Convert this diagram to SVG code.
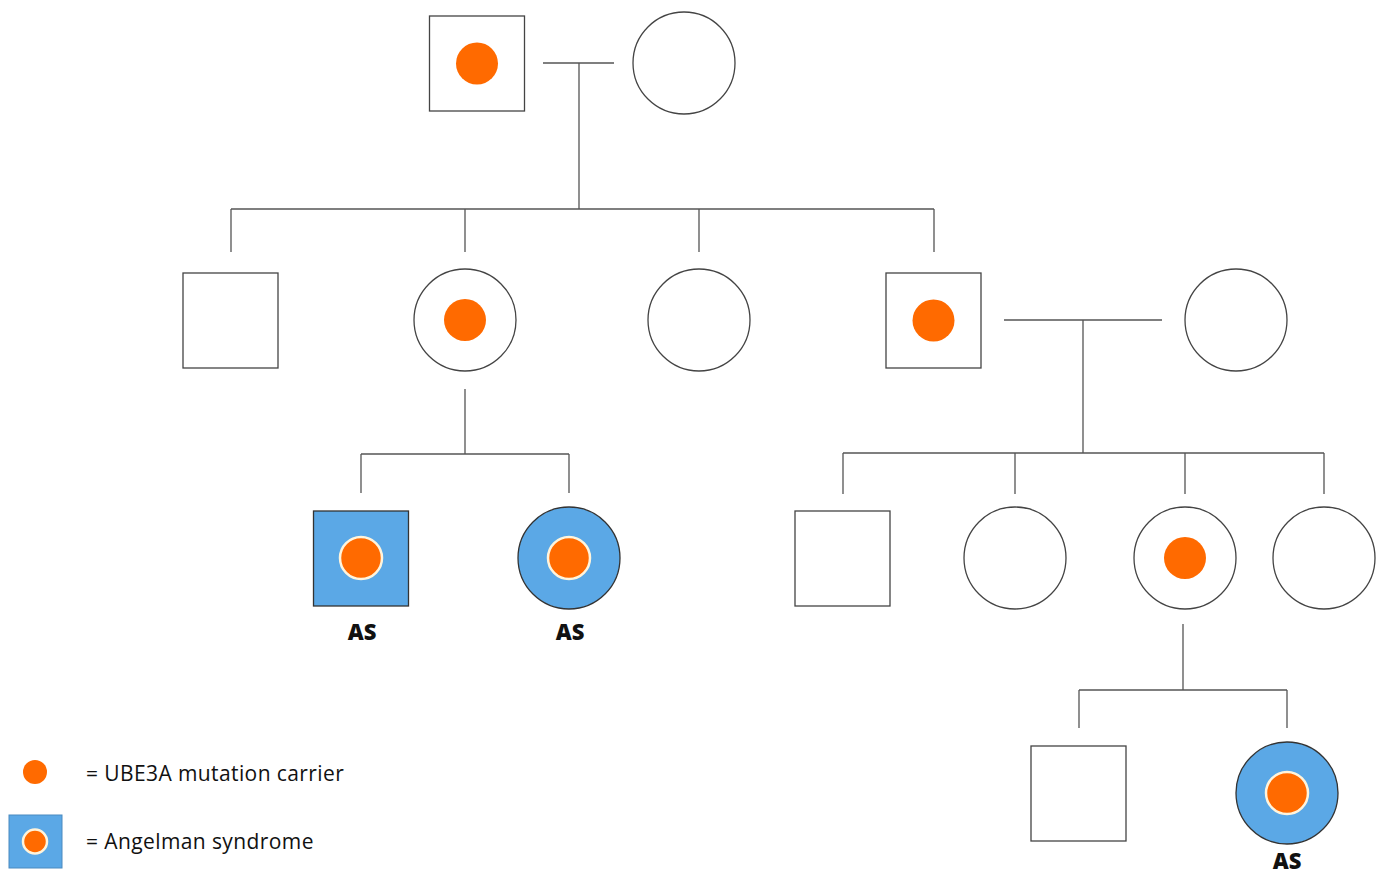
<svg xmlns="http://www.w3.org/2000/svg" width="1377" height="874" viewBox="0 0 1377 874">
  <style>
    .sym { fill: #ffffff; stroke: #444444; stroke-width: 1.3; }
    .aff { fill: #5ba8e6; stroke: #333333; stroke-width: 1.3; }
    .dot { fill: #ff6a00; }
    .dotw { fill: #ff6a00; stroke: #fff4dc; stroke-width: 2.5; }
    .ln { fill: none; stroke: #555555; stroke-width: 1.3; }
    .as { font-family: "Open Sans", "Liberation Sans", sans-serif; font-weight: 800; font-size: 22px; fill: #111111; text-anchor: middle; }
    .lg { font-family: "Open Sans", "Liberation Sans", sans-serif; font-size: 21px; letter-spacing: 0.4px; fill: #111111; }
  </style>
  <rect width="1377" height="874" fill="#ffffff"/>

  <g id="connectors">
    <!-- generation I couple and sibship -->
    <path class="ln" d="M543 63 H614 M579 63 V209 M231 209 H934 M231 209 V252 M465 209 V252 M699 209 V252 M934 209 V252"/>
    <!-- carrier daughter to her children -->
    <path class="ln" d="M465 389 V454 M361 454 H569 M361 454 V493 M569 454 V493"/>
    <!-- carrier son couple and sibship -->
    <path class="ln" d="M1004 320 H1162 M1083 320 V453 M843 453 H1324 M843 453 V494 M1015 453 V494 M1185 453 V494 M1324 453 V494"/>
    <!-- carrier granddaughter to her children -->
    <path class="ln" d="M1183 624 V690 M1079 690 H1287 M1079 690 V728 M1287 690 V728"/>
  </g>

  <!-- generation I -->
  <g id="g1-father"><rect class="sym" x="429.5" y="16" width="95" height="95"/><circle class="dot" cx="477" cy="63.5" r="21"/></g>
  <g id="g1-mother"><circle class="sym" cx="684" cy="63" r="51"/></g>

  <!-- generation II -->
  <g id="g2-son1"><rect class="sym" x="183" y="273" width="95" height="95"/></g>
  <g id="g2-daughter1"><circle class="sym" cx="465" cy="320" r="51"/><circle class="dot" cx="465" cy="320" r="21"/></g>
  <g id="g2-daughter2"><circle class="sym" cx="699" cy="320" r="51"/></g>
  <g id="g2-son2"><rect class="sym" x="886" y="273" width="95" height="95"/><circle class="dot" cx="933.5" cy="320.5" r="21"/></g>
  <g id="g2-spouse"><circle class="sym" cx="1236" cy="320" r="51"/></g>

  <!-- generation III, left family -->
  <g id="g3-as-son"><rect class="aff" x="313.5" y="511" width="95" height="95"/><circle class="dotw" cx="361" cy="558" r="21"/><text class="as" x="362" y="640">AS</text></g>
  <g id="g3-as-daughter"><circle class="aff" cx="569" cy="558" r="51"/><circle class="dotw" cx="569" cy="558" r="21"/><text class="as" x="570" y="640">AS</text></g>

  <!-- generation III, right family -->
  <g id="g3-son"><rect class="sym" x="795" y="511" width="95" height="95"/></g>
  <g id="g3-daughter1"><circle class="sym" cx="1015" cy="558" r="51"/></g>
  <g id="g3-daughter2"><circle class="sym" cx="1185" cy="558" r="51"/><circle class="dot" cx="1185" cy="558" r="21"/></g>
  <g id="g3-daughter3"><circle class="sym" cx="1324" cy="558" r="51"/></g>

  <!-- generation IV -->
  <g id="g4-son"><rect class="sym" x="1031" y="746" width="95" height="95"/></g>
  <g id="g4-as-daughter"><circle class="aff" cx="1287" cy="793" r="51"/><circle class="dotw" cx="1287" cy="793" r="21"/><text class="as" x="1287" y="869">AS</text></g>

  <!-- key -->
  <g id="legend-carrier"><circle class="dot" cx="35" cy="772" r="12"/><text class="lg" x="86" y="781">= UBE3A mutation carrier</text></g>
  <g id="legend-as"><rect x="9" y="815" width="53" height="53" fill="#5ba8e6" stroke="#4a8ac0" stroke-width="1"/><circle class="dotw" cx="35" cy="841.5" r="12" stroke-width="2"/><text class="lg" x="86" y="849">= Angelman syndrome</text></g>
</svg>
